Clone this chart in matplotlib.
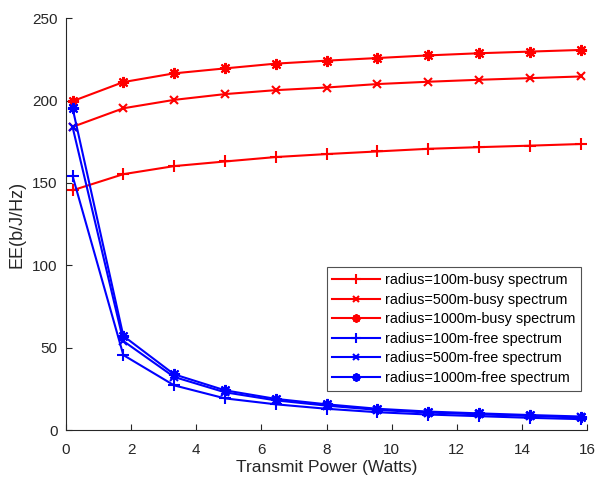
import numpy as np
import matplotlib
matplotlib.use("Agg")
import matplotlib.pyplot as plt

plt.rcParams['font.family'] = ['Liberation Sans', 'DejaVu Sans']

# Transmit power (Watts)
power = [0.2, 1.76, 3.32, 4.88, 6.44, 8.0, 9.56, 11.12, 12.68, 14.24, 15.8]

# Energy efficiency (b/J/Hz)
busy_100 = [145.5, 155.3, 160.2, 163.0, 165.7, 167.5, 169.1, 170.7, 171.7, 172.6, 173.6]
busy_500 = [184.0, 195.3, 200.4, 203.9, 206.3, 207.9, 210.0, 211.4, 212.6, 213.6, 214.6]
busy_1000 = [199.6, 211.2, 216.5, 219.5, 222.4, 224.2, 225.8, 227.4, 228.7, 229.7, 230.7]
free_100 = [154.3, 45.5, 27.1, 19.2, 15.6, 12.9, 10.8, 9.4, 8.4, 7.4, 6.6]
free_500 = [184.0, 54.0, 32.2, 22.9, 18.0, 14.8, 12.2, 10.6, 9.5, 8.5, 7.6]
free_1000 = [195.5, 57.1, 33.8, 24.1, 18.9, 15.6, 12.9, 11.2, 10.1, 9.1, 8.2]

labels = ['radius=100m-busy spectrum', 'radius=500m-busy spectrum',
          'radius=1000m-busy spectrum', 'radius=100m-free spectrum',
          'radius=500m-free spectrum', 'radius=1000m-free spectrum']

asterisk = (8, 2, 0)

fig = plt.figure(figsize=(5.97, 4.78), dpi=100)
ax = fig.add_axes([0.1106, 0.1004, 0.8727, 0.8616])

series = [busy_100, busy_500, busy_1000, free_100, free_500, free_1000]
colors = ['#ff0000'] * 3 + ['#0000ff'] * 3
markers = ['+', 'x', asterisk] * 3
sizes = [9, 6, 8] * 2

for ys, c, m, ms, lab in zip(series, colors, markers, sizes, labels):
    ax.plot(power, ys, color=c, marker=m, markersize=ms, lw=1.5,
            markeredgewidth=1.5, label=lab)

ax.set_xlim(0, 16)
ax.set_ylim(0, 250)
ax.set_xticks(range(0, 17, 2))
ax.set_yticks(range(0, 251, 50))
ax.tick_params(direction='in', length=4, colors='#262626', labelsize=11,
               labelcolor='#262626', pad=6)
ax.tick_params(axis='x', pad=9.5)
for s in ['top', 'right']:
    ax.spines[s].set_visible(False)
for s in ['left', 'bottom']:
    ax.spines[s].set_color('#262626')
    ax.spines[s].set_linewidth(0.8)

ax.set_xlabel('Transmit Power (Watts)', fontsize=12.5, color='#262626',
              labelpad=2)
ax.set_ylabel('EE(b/J/Hz)', fontsize=13, color='#262626', labelpad=5)

leg = ax.legend(loc='lower right', bbox_to_anchor=(0.988, 0.095),
                fontsize=10.4, frameon=True, fancybox=False, borderpad=0.4,
                labelspacing=0.39, handlelength=3.26, handletextpad=0.35,
                borderaxespad=0, markerscale=0.75)
leg.get_frame().set_edgecolor('#262626')
leg.get_frame().set_linewidth(0.8)

fig.savefig('out.png', dpi=100)
